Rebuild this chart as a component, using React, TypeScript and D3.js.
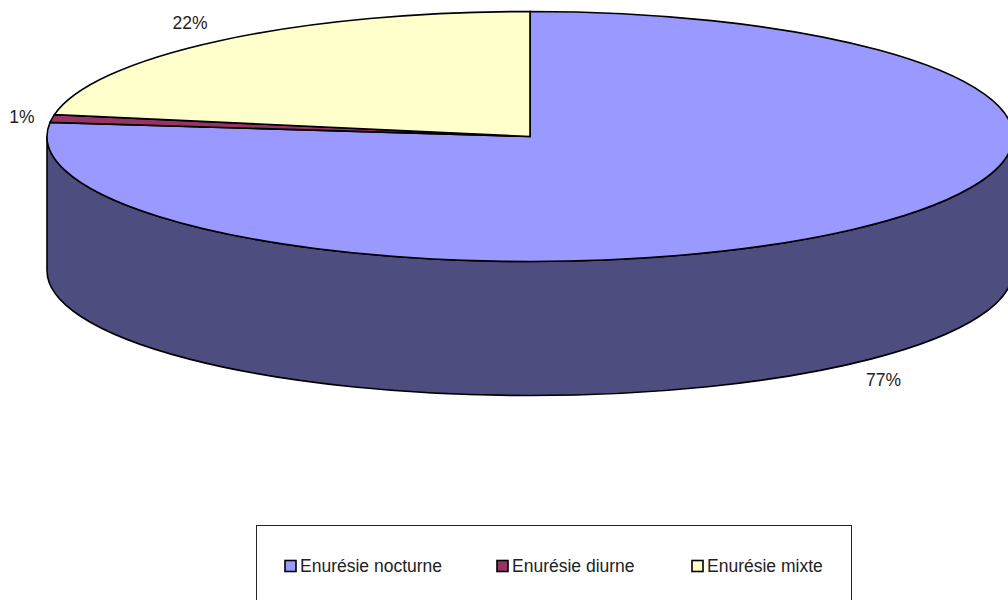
import React from "react";
import * as d3 from "d3";

const categories = ["Enurésie nocturne", "Enurésie diurne", "Enurésie mixte"];
const values = [76.8, 1.0, 22.2];
const percentLabels = ["77%", "1%", "22%"];
const colors = ["#9999FF", "#993366", "#FFFFCC"];
const wallColor = "#4D4D80";

const W = 1008, H = 600;
const cx = 530, cy = 136.5, rx = 483, ry = 125, depth = 134;
const labelPos: [number, number][] = [[883.5, 380], [22, 116.5], [190, 23]];
const legendX = [285, 497, 692];
const legendY = 566;
const font = "'Liberation Sans', Arial, sans-serif";

export default function App() {
  const pie = d3.pie<number>().value((d) => d).sort(null);
  const arcs = pie(values);
  const arc = d3.arc<d3.PieArcDatum<number>>().innerRadius(0).outerRadius(rx);
  const wall = `M${cx - rx},${cy}L${cx - rx},${cy + depth}A${rx},${ry} 0 0 0 ${cx + rx},${cy + depth}L${cx + rx},${cy}A${rx},${ry} 0 0 1 ${cx - rx},${cy}Z`;
  return (
    <svg width={W} height={H} viewBox={`0 0 ${W} ${H}`} style={{ position: "absolute", left: 0, top: 0, background: "#fff" }} fontFamily={font}>
      <path d={wall} fill={wallColor} stroke="#000" strokeWidth={1.6} />
      <g transform={`translate(${cx},${cy}) scale(1,${ry / rx})`}>
        {arcs.map((a, i) => (
          <path key={i} d={arc(a) ?? ""} fill={colors[i]} stroke="#000" strokeWidth={1.6} vectorEffect="non-scaling-stroke" />
        ))}
      </g>
      {percentLabels.map((t, i) => (
        <text key={t} x={labelPos[i][0]} y={labelPos[i][1]} dy="0.35em" textAnchor="middle" fontSize={17.5} fill="#222">{t}</text>
      ))}
      <rect x={256.5} y={525.5} width={595} height={90} fill="#fff" stroke="#222" strokeWidth={1} />
      {categories.map((c, i) => (
        <g key={c}>
          <rect x={legendX[i]} y={legendY - 5.5} width={11} height={11} fill={colors[i]} stroke="#000" strokeWidth={1.6} />
          <text x={legendX[i] + 15} y={legendY} dy="0.35em" fontSize={17.5} fill="#222">{c}</text>
        </g>
      ))}
    </svg>
  );
}
